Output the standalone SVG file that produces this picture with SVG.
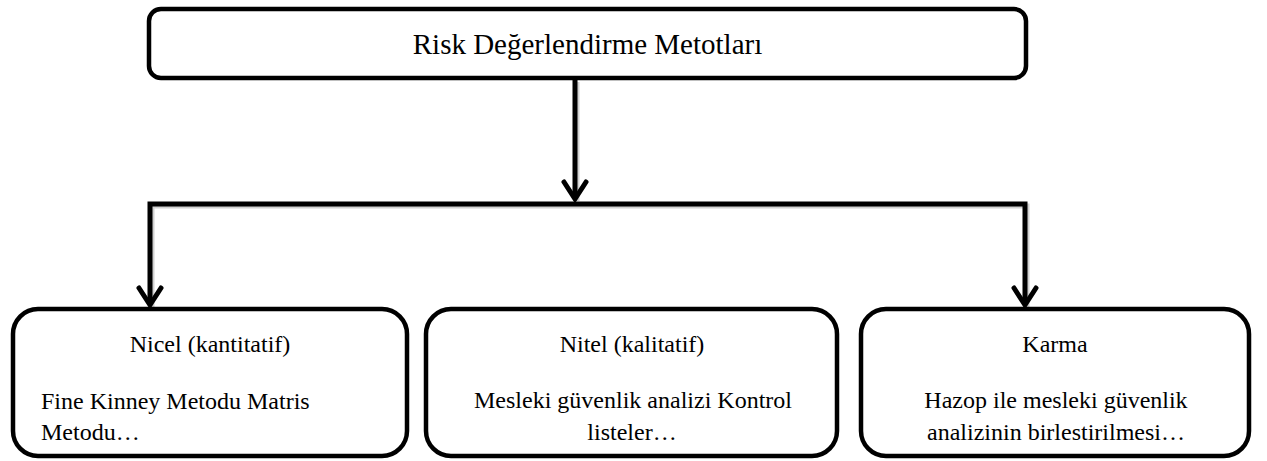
<svg xmlns="http://www.w3.org/2000/svg" width="1267" height="461" viewBox="0 0 1267 461">
<style>
.box{fill:#fff;stroke:#000;stroke-width:4.5}
.ln{fill:none;stroke:#000;stroke-width:5}
.ah{fill:none;stroke:#000;stroke-width:5;stroke-linecap:round;stroke-linejoin:miter}
.sh{fill:none;stroke:#000;stroke-opacity:0.18;stroke-width:5}
text{font-family:"Liberation Serif","Times New Roman",serif;fill:#000}
.t{font-size:29px}
.s{font-size:24px}
.c{text-anchor:middle}
</style>
<rect width="1267" height="461" fill="#fff"/>
<g id="connectors">
<g transform="translate(2,2)">
<path class="sh" d="M575 80 V199"/>
<path class="sh" d="M150 305 V204 H1025 V305"/>
</g>
<path class="ln" d="M575 78 V199"/>
<path class="ah" d="M564 182 L575 199 L586 182"/>
<path class="ln" d="M150 305 V204 H1025 V305"/>
<path class="ah" d="M139 288 L150 305 L161 288"/>
<path class="ah" d="M1014 288 L1025 305 L1036 288"/>
</g>
<g id="root">
<rect class="box" x="149" y="9" width="877" height="69" rx="12"/>
<text class="t c" x="587.5" y="54">Risk Değerlendirme Metotları</text>
</g>
<g id="nicel">
<rect class="box" x="13" y="309" width="394" height="147" rx="25"/>
<text class="s c" x="210" y="352">Nicel (kantitatif)</text>
<text class="s" x="41" y="409">Fine Kinney Metodu Matris</text>
<text class="s" x="41" y="440">Metodu…</text>
</g>
<g id="nitel">
<rect class="box" x="426" y="309" width="411" height="147" rx="25"/>
<text class="s c" x="632" y="352">Nitel (kalitatif)</text>
<text class="s c" x="633" y="408">Mesleki güvenlik analizi Kontrol</text>
<text class="s c" x="632" y="440">listeler…</text>
</g>
<g id="karma">
<rect class="box" x="861" y="309" width="388" height="147" rx="25"/>
<text class="s c" x="1055" y="352">Karma</text>
<text class="s c" x="1056" y="408">Hazop ile mesleki güvenlik</text>
<text class="s c" x="1056" y="440">analizinin birlestirilmesi…</text>
</g>
</svg>
